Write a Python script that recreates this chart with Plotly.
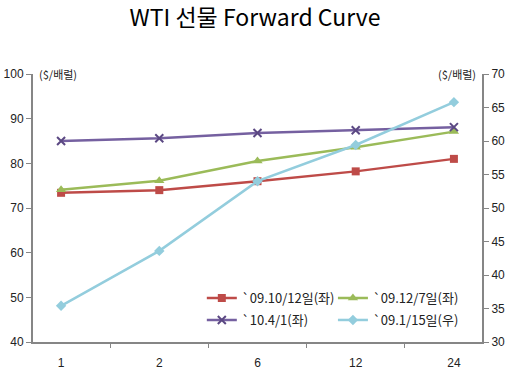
import plotly.graph_objects as go

categories = ["1", "2", "6", "12", "24"]
s_red = [73.4, 74.0, 76.0, 78.2, 81.0]      # `09.10/12일(좌)
s_green = [74.1, 76.1, 80.5, 83.6, 87.1]    # `09.12/7일(좌)
s_purple = [85.0, 85.6, 86.8, 87.4, 88.1]   # `10.4/1(좌)
s_cyan = [35.4, 43.6, 54.0, 59.4, 65.8]     # `09.1/15일(우)

names = ["`09.10/12일(좌)", "`09.12/7일(좌)", "`10.4/1(좌)", "`09.1/15일(우)"]
title_text = "WTI 선물 Forward Curve"
unit_text = "($/배럴)"

FONT = "Liberation Sans, Noto Sans CJK KR, sans-serif"
KFONT = "Noto Sans CJK KR, Liberation Sans, sans-serif"
AX = "#868686"

fig = go.Figure()
fig.add_trace(go.Scatter(x=categories, y=s_red, name=names[0], mode="lines+markers",
                         line=dict(color="#BE4B48", width=2.5),
                         marker=dict(symbol="square", size=8, color="#BE4B48"),
                         legend="legend"))
fig.add_trace(go.Scatter(x=categories, y=s_green, name=names[1], mode="lines+markers",
                         line=dict(color="#9BBB59", width=2.5),
                         marker=dict(symbol="triangle-up", size=9, color="#9BBB59"),
                         legend="legend2"))
fig.add_trace(go.Scatter(x=categories, y=s_purple, name=names[2], mode="lines+markers",
                         line=dict(color="#7560A0", width=2.5),
                         marker=dict(symbol="x-thin", size=8, color="#5B4883",
                                     line=dict(width=2, color="#5B4883")),
                         legend="legend3"))
fig.add_trace(go.Scatter(x=categories, y=s_cyan, name=names[3], mode="lines+markers",
                         line=dict(color="#93CDDD", width=2.5),
                         marker=dict(symbol="diamond", size=8, color="#93CDDD"),
                         yaxis="y2", legend="legend4"))


def leg(x, y):
    return dict(orientation="v", x=x, xanchor="left", y=y, yanchor="middle",
                bgcolor="rgba(0,0,0,0)", borderwidth=0,
                font=dict(family=KFONT, size=13, color="#222222"), itemwidth=30)


fig.update_layout(
    width=510, height=372,
    margin=dict(l=33, r=28, t=74, b=30),
    paper_bgcolor="white", plot_bgcolor="white",
    font=dict(family=FONT, size=12, color="#222222"),
    title=dict(text=title_text, x=0.5, xanchor="center", y=1 - 18 / 372, yanchor="middle",
               yref="container", font=dict(family=KFONT, size=23, color="black")),
    xaxis=dict(type="category", showgrid=False, showline=True, linecolor=AX, linewidth=2,
               ticks="outside", tickson="boundaries", ticklen=4, tickcolor=AX, tickwidth=1,
               tickfont=dict(size=12, color="#222222"), zeroline=False, automargin=False,
               ticklabelstandoff=9),
    yaxis=dict(range=[40, 100], dtick=10, showgrid=False, showline=True, linecolor=AX,
               linewidth=2, ticks="outside", ticklen=5, tickcolor=AX, tickwidth=1,
               tickfont=dict(size=12, color="#222222"), zeroline=False, automargin=False),
    yaxis2=dict(range=[30, 70], dtick=5, overlaying="y", side="right", showgrid=False,
                showline=True, linecolor=AX, linewidth=2, ticks="outside", ticklen=5,
                tickcolor=AX, tickwidth=1, tickfont=dict(size=12, color="#222222"),
                zeroline=False, automargin=False),
    legend=leg(0.376, 0.164),
    legend2=leg(0.668, 0.164),
    legend3=leg(0.376, 0.082),
    legend4=leg(0.668, 0.082),
    showlegend=True,
    annotations=[
        dict(text=unit_text, xref="paper", yref="paper", x=0.008, y=1.0, xanchor="left",
             yanchor="middle", showarrow=False, font=dict(family=KFONT, size=11)),
        dict(text=unit_text, xref="paper", yref="paper", x=0.99, y=1.0, xanchor="right",
             yanchor="middle", showarrow=False, font=dict(family=KFONT, size=11)),
    ],
)

fig.write_html(
    "out.html",
    config={"displayModeBar": False},
    post_script="document.body.style.margin='0';document.body.style.padding='0';"
                "document.body.style.overflow='hidden';",
)
